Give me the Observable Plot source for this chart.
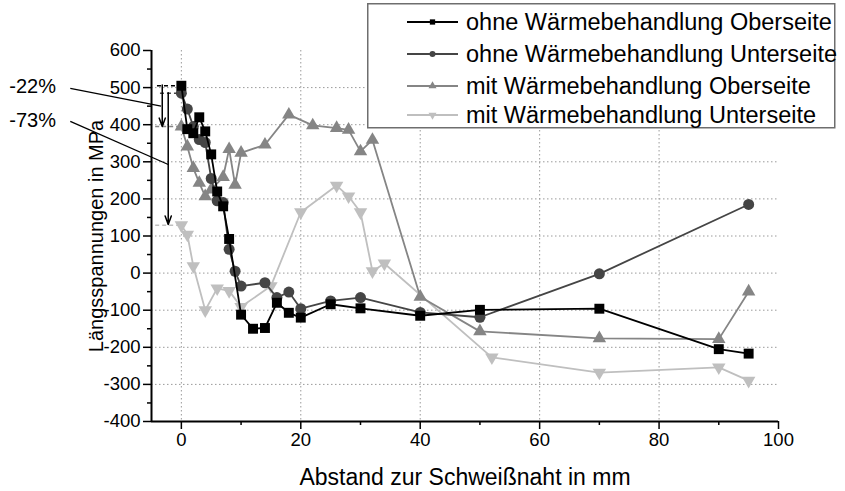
<!DOCTYPE html>
<html><head><meta charset="utf-8">
<script src="https://cdn.jsdelivr.net/npm/d3@7"></script>
<script src="https://cdn.jsdelivr.net/npm/@observablehq/plot@0.6"></script>
<style>
html,body{margin:0;padding:0;background:#fff;}
#wrap{position:relative;width:845px;height:491px;overflow:hidden;font-family:"Liberation Sans",Arial,sans-serif;}
#wrap > svg.main{position:absolute;left:0;top:0;}
#wrap > svg#legend{position:absolute;left:367px;top:3px;}
</style></head><body><div id="wrap"></div>
<script>
// ---- data ----
const seriesNames = [
  "ohne Wärmebehandlung Oberseite",
  "ohne Wärmebehandlung Unterseite",
  "mit Wärmebehandlung Oberseite",
  "mit Wärmebehandlung Unterseite"
];
const xOhneOben = [0,1,2,3,4,5,6,7,8,10,12,14,16,18,20,25,30,40,50,70,90,95];
const yOhneOben = [505,388,377,420,382,320,220,180,92,-112,-150,-148,-80,-107,-120,-84,-95,-115,-99,-96,-205,-217];
const xOhneUnten = [0,1,2,3,4,5,6,7,8,9,10,14,16,18,20,25,30,40,50,70,95];
const yOhneUnten = [485,442,395,360,352,255,195,190,64,5,-35,-26,-66,-51,-96,-75,-66,-106,-119,-2,185];
const xMitOben = [0,1,2,3,4,5,7,8,9,10,14,18,22,26,28,30,32,40,50,70,90,95];
const yMitOben = [395,341,283,243,207,225,259,334,238,324,346,427,398,391,386,328,359,-64,-157,-176,-178,-50];
const xMitUnten = [0,1,2,4,6,8,10,15,20,26,28,30,32,34,52,70,90,95];
const yMitUnten = [129,104,19,-100,-41,-48,-91,-35,164,236,207,164,5,26,-227,-268,-254,-290];

const xTicks = [0,20,40,60,80,100];
const xMinorTicks = [10,30,50,70,90];
const xGrid = [0,20,40,60,80];
const yTicks = [-400,-300,-200,-100,0,100,200,300,400,500,600];
const yMinorTicks = [-350,-250,-150,-50,50,150,250,350,450,550];
const yGrid = [-300,-200,-100,0,100,200,300,400,500];

const xLabel = "Abstand zur Schweißnaht in mm";
const yLabel = "Längsspannungen in MPa";

// annotation: reduction arrows
const annoLabels = ["-22%","-73%"];
const annoArrowX = [-3.2,-2.2];
const annoArrowFrom = [507,486];
const annoArrowTo = [395,131];
const annoTextX = [-21.0,-21.0];
const annoTextY = [502,410];
const annoLeaderX1 = [-18.6,-18.6];
const annoLeaderY1 = [498,409];
const annoLeaderX2 = [-3.4,-2.1];
const annoLeaderY2 = [450,292];
const refLevels = [505,485,395,129];
const refStart = [-4,-3.5,-4.3,-4.3];

// ---- styling ----
const colors = ["#000000","#454545","#858585","#bfbfbf"];
const symbols = ["square","circle","triangle","triangle"];
const rotations = [0,0,0,180];
const radii = [5.6,5.5,5,5];

const xs = [xOhneOben,xOhneUnten,xMitOben,xMitUnten];
const ys = [yOhneOben,yOhneUnten,yMitOben,yMitUnten];
const series = xs.map((xa,k)=>xa.map((x,i)=>({x, y: ys[k][i]})));

const refs = refLevels.map((y,i)=>({y, x1: refStart[i], x2: 0, c: colors[i]}));
const arrows = annoLabels.map((t,i)=>({x: annoArrowX[i], y1: annoArrowFrom[i], y2: annoArrowTo[i]}));
const leaders = annoLabels.map((t,i)=>({x1: annoLeaderX1[i], y1: annoLeaderY1[i], x2: annoLeaderX2[i], y2: annoLeaderY2[i]}));
const texts = annoLabels.map((t,i)=>({t, x: annoTextX[i], y: annoTextY[i]}));

const seriesMarks = [];
for (let k = 3; k >= 0; k--) {
  seriesMarks.push(Plot.line(series[k], {x:"x", y:"y", stroke: colors[k], strokeWidth: 1.8}));
  seriesMarks.push(Plot.dot(series[k], {x:"x", y:"y", symbol: symbols[k], fill: colors[k], stroke: "none", r: radii[k], rotate: rotations[k]}));
}
const fmt = d => String(d);

const chart = Plot.plot({
  width: 845, height: 491,
  marginLeft: 151, marginRight: 67, marginTop: 50, marginBottom: 70,
  style: {fontFamily: "'Liberation Sans', Arial, sans-serif", color: "#000", background: "#fff", overflow: "visible"},
  x: {domain: [-5,100], axis: null},
  y: {domain: [-400,600], axis: null},
  marks: [
    Plot.gridX(xGrid, {stroke: "#9a9a9a", strokeOpacity: 1, strokeDasharray: "1.5,2.5", strokeWidth: 1}),
    Plot.gridY(yGrid, {stroke: "#9a9a9a", strokeOpacity: 1, strokeDasharray: "1.5,2.5", strokeWidth: 1, x1: -5, x2: 100}),
    Plot.ruleY(refs, {y: "y", x1: "x1", x2: "x2", stroke: "c", strokeDasharray: "4,3", strokeWidth: 1.5}),
    ...seriesMarks,
    Plot.arrow(arrows, {x: "x", y1: "y1", y2: "y2", stroke: "#000", strokeWidth: 1.5, headLength: 9, headAngle: 40}),
    Plot.link(leaders, {x1: "x1", y1: "y1", x2: "x2", y2: "y2", stroke: "#000", strokeWidth: 1.3}),
    Plot.text(texts, {x: "x", y: "y", text: "t", textAnchor: "end", fontSize: 20, fill: "#000"}),
    Plot.axisX(xTicks, {tickSize: 8, tickPadding: 3, fontSize: 18.5, strokeWidth: 1.5, label: null, tickFormat: fmt}),
    Plot.axisX(xMinorTicks, {tickSize: 4, text: null, strokeWidth: 1.5, label: null}),
    Plot.axisY(yTicks, {tickSize: 8, tickPadding: 3, fontSize: 18.5, strokeWidth: 1.5, label: null, tickFormat: fmt}),
    Plot.axisY(yMinorTicks, {tickSize: 4, text: null, strokeWidth: 1.5, label: null}),
    Plot.ruleX([-5], {stroke: "#000", strokeWidth: 2}),
    Plot.ruleY([-400], {stroke: "#000", strokeWidth: 2}),
    Plot.text([xLabel], {frameAnchor: "bottom", dy: 56, lineAnchor: "middle", fontSize: 23, fill: "#000"}),
    Plot.text([yLabel], {frameAnchor: "left", dx: -55, rotate: -90, textAnchor: "middle", lineAnchor: "middle", fontSize: 20, fill: "#000"})
  ]
});
chart.setAttribute("class", (chart.getAttribute("class")||"") + " main");
document.getElementById("wrap").appendChild(chart);

// ---- legend overlay ----
const lg = d3.select("#wrap").append("svg").attr("id","legend")
  .attr("width", 470).attr("height", 127);
lg.append("rect").attr("x",0.75).attr("y",0.75).attr("width",467).attr("height",124)
  .attr("fill","#fff").attr("stroke","#6e6e6e").attr("stroke-width",1.5);
const rowY = [19,51,83,112];
seriesNames.forEach((name,k)=>{
  const g = lg.append("g").attr("transform",`translate(0,${rowY[k]})`);
  g.append("line").attr("x1",40).attr("x2",91).attr("y1",0).attr("y2",0)
    .attr("stroke",colors[k]).attr("stroke-width",1.8);
  const typ = symbols[k]==="square"? d3.symbolSquare : symbols[k]==="circle"? d3.symbolCircle : d3.symbolTriangle;
  g.append("path").attr("d", d3.symbol(typ, 28)())
    .attr("transform",`translate(65.5,0) rotate(${rotations[k]})`).attr("fill",colors[k]);
  g.append("text").attr("x",99).attr("y",0).attr("dy","0.35em")
    .attr("font-size",23.5).attr("font-family","'Liberation Sans', Arial, sans-serif").attr("fill","#000").text(name);
});
</script></body></html>
